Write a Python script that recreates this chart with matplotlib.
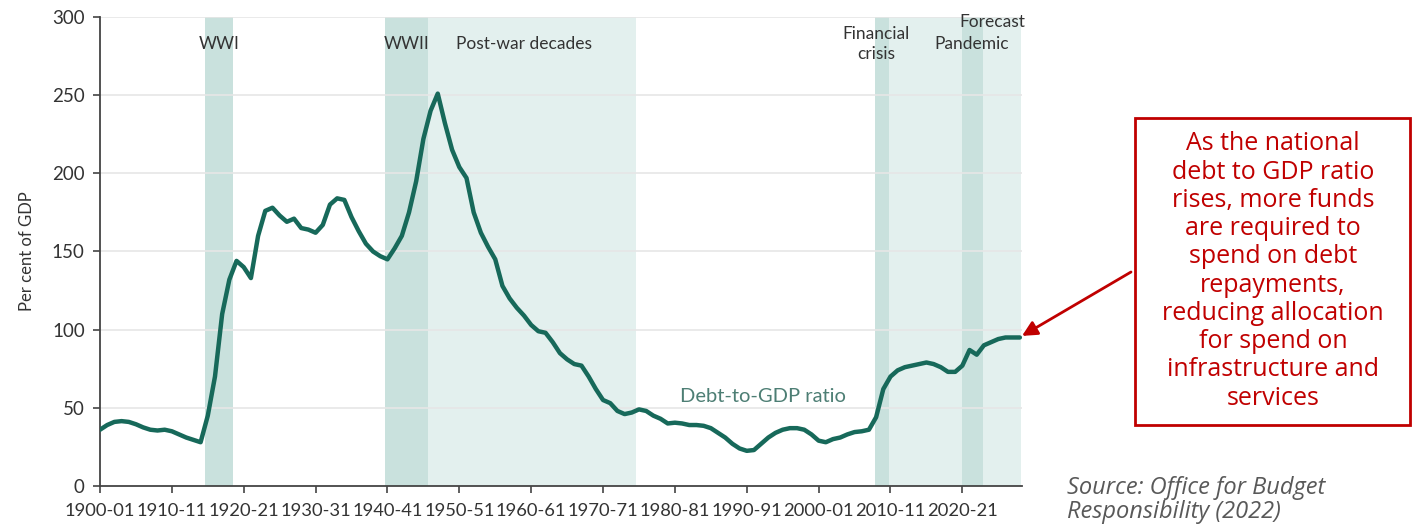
import matplotlib
matplotlib.use("Agg")
import matplotlib.pyplot as plt
from matplotlib.patches import Rectangle

# UK public sector net debt, per cent of GDP (fiscal years, start year shown)
years = list(range(1900, 2029))
debt_ratio = [
    36, 39, 41, 41.5, 41, 39.5, 37.5, 36, 35.5, 36,          # 1900s
    35, 33, 31, 29.5, 28, 45, 70, 110, 132, 144,             # 1910s
    140, 133, 160, 176, 178, 173, 169, 171, 165, 164,        # 1920s
    162, 167, 180, 184, 183, 172, 163, 155, 150, 147,        # 1930s
    145, 152, 160, 175, 195, 222, 240, 251, 232, 215,        # 1940s
    204, 197, 175, 162, 153, 145, 128, 120, 114, 109,        # 1950s
    103, 99, 98, 92, 85, 81, 78, 77, 70, 62,                 # 1960s
    55, 53, 48, 46, 47, 49, 48, 45, 43, 40,                  # 1970s
    40.5, 40, 39, 39, 38.5, 37, 34, 31, 27, 24,              # 1980s
    22.5, 23, 27, 31, 34, 36, 37, 37, 36, 33,                # 1990s
    29, 28, 30, 31, 33, 34.5, 35, 36, 44, 62,                # 2000s
    70, 74, 76, 77, 78, 79, 78, 76, 73, 73,                  # 2010s
    77, 87, 84, 90, 92, 94, 95, 95, 95,                      # 2020s + forecast
]

tick_years = [1900, 1910, 1920, 1930, 1940, 1950, 1960, 1970, 1980, 1990, 2000, 2010, 2020]
tick_labels = ["1900-01", "1910-11", "1920-21", "1930-31", "1940-41", "1950-51",
               "1960-61", "1970-71", "1980-81", "1990-91", "2000-01", "2010-11", "2020-21"]
y_ticks = [0, 50, 100, 150, 200, 250, 300]

# shaded periods
light_periods = [(1945.6, 1974.6), (2007.9, 2028.1)]
dark_periods = [(1914.6, 1918.5), (1939.7, 1945.6), (2007.9, 2009.8), (2019.9, 2022.9)]
period_labels = [
    ("WWI", 1916.6, 283, "center"),
    ("WWII", 1942.6, 283, "center"),
    ("Post-war decades", 1949.6, 283, "left"),
    ("Financial\ncrisis", 2008.0, 283, "center"),
    ("Pandemic", 2021.3, 283, "center"),
    ("Forecast", 2028.8, 297, "right"),
]

LINE = "#17695a"
DARK = "#c9e1dd"
LIGHT = "#e3f0ee"
TXT = "#333333"
RED = "#c00000"

W, H = 1416, 526
fig = plt.figure(figsize=(W / 100, H / 100), dpi=100)
ax = fig.add_axes([100 / W, 40 / H, (1022 - 100) / W, (486 - 17) / H])

for a, b in light_periods:
    ax.axvspan(a, b, color=LIGHT, lw=0, zorder=0)
for a, b in dark_periods:
    ax.axvspan(a, b, color=DARK, lw=0, zorder=0.5)

for y in y_ticks[1:]:
    ax.axhline(y, color="#e6e6e6", lw=1.2, zorder=1)

ax.plot(years, debt_ratio, color=LINE, lw=3.2, solid_capstyle="round",
        solid_joinstyle="round", zorder=3)

ax.set_xlim(1900, 2028.3)
ax.set_ylim(0, 300)
ax.set_xticks(tick_years)
ax.set_xticklabels(tick_labels)
ax.set_yticks(y_ticks)
for s in ("top", "right"):
    ax.spines[s].set_visible(False)
for s in ("left", "bottom"):
    ax.spines[s].set_color("#444444")
    ax.spines[s].set_linewidth(1.3)
ax.tick_params(axis="x", length=5, width=1.2, color="#444444", labelsize=13.2,
               labelcolor=TXT, pad=7)
ax.tick_params(axis="y", length=5, width=1.2, color="#444444", labelsize=13.5,
               labelcolor=TXT, pad=6)
for lbl in ax.get_xticklabels() + ax.get_yticklabels():
    lbl.set_fontfamily("Lato")

ax.set_ylabel("Per cent of GDP", fontsize=12, color=TXT, family="Lato", labelpad=12)

for text, x, y, ha in period_labels:
    ax.text(x, y, text, ha=ha, va="center", fontsize=12.5, color=TXT, family="Lato",
            linespacing=1.3, zorder=4, clip_on=False)

ax.text(1992.2, 57, "Debt-to-GDP ratio", ha="center", va="center", fontsize=14.5,
        color="#4d7e74", family="Lato", zorder=4)

# explanatory callout
note = ("As the national\ndebt to GDP ratio\nrises, more funds\nare required to\n"
        "spend on debt\nrepayments,\nreducing allocation\nfor spend on\n"
        "infrastructure and\nservices")
fig.patches.append(Rectangle((1135 / W, (H - 425) / H), 275 / W, 307 / H,
                             transform=fig.transFigure, fill=False,
                             edgecolor=RED, lw=2))
fig.text(1273 / W, (H - 271) / H, note, ha="center", va="center", fontsize=18,
         color=RED, family="Open Sans", linespacing=1.17)

ax.annotate("", xy=(2028.3, 96), xycoords="data",
            xytext=(1131 / W, (H - 272) / H), textcoords="figure fraction",
            arrowprops=dict(arrowstyle="-|>,head_length=0.9,head_width=0.45",
                            color=RED, lw=2, shrinkA=0, shrinkB=0),
            annotation_clip=False)

fig.text(1067 / W, (H - 500) / H, "Source: Office for Budget\nResponsibility (2022)",
         ha="left", va="center", fontsize=17, color="#595959", style="italic",
         family="Open Sans", linespacing=1.05)

fig.savefig("out.png", dpi=100, facecolor="white")
